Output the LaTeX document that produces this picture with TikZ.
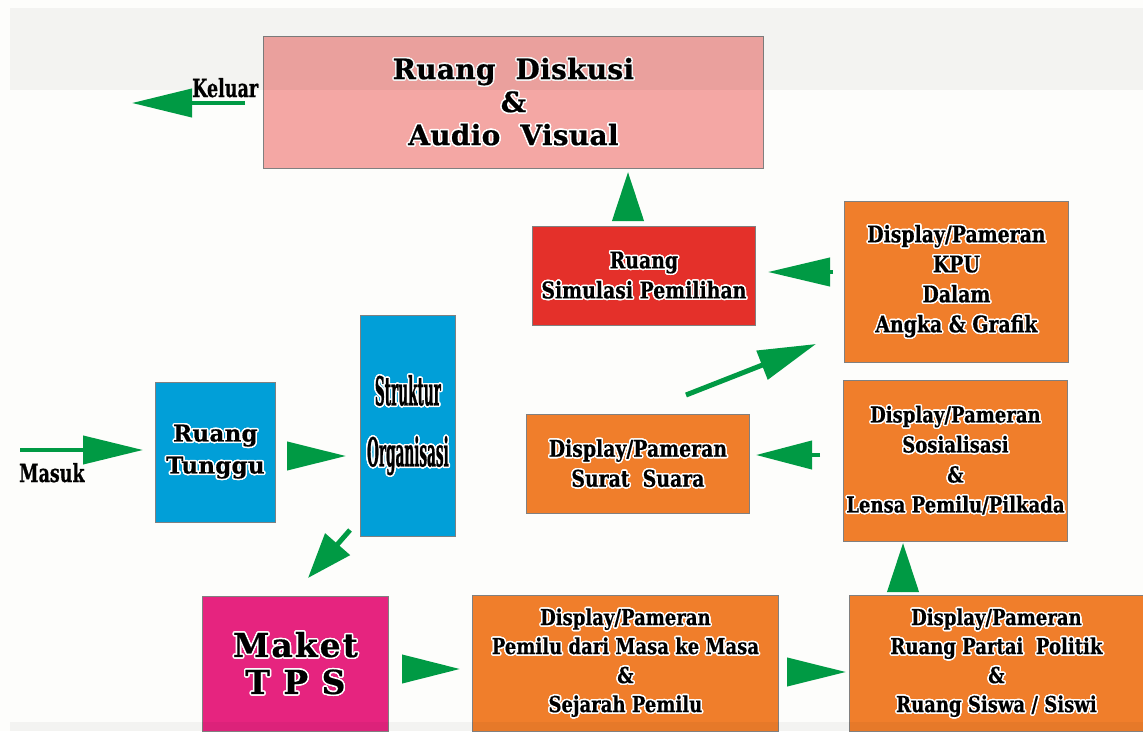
\documentclass[tikz,border=0pt]{standalone}
\usepackage{fontspec}
\usepackage[copies]{contour}
\usetikzlibrary{arrows.meta}
\newfontfamily\slab[LetterSpace=1,FakeBold=0.6]{DejaVu Serif}
\newfontfamily\slabwide[LetterSpace=6,FakeBold=0.6]{DejaVu Serif}
\newfontfamily\cond[FakeStretch=0.82,FakeBold=0.6]{DejaVu Serif}
\newfontfamily\tcond[FakeStretch=0.7,FakeBold=0.6]{DejaVu Serif}
\newfontfamily\ucond[FakeStretch=0.34,FakeBold=0.6]{DejaVu Serif}
\contourlength{1.5pt}
\contournumber{16}
\newcommand\ol[1]{\contour{white}{#1}}
\definecolor{bgc}{HTML}{FDFDFB}
\definecolor{pinkc}{HTML}{F4A7A4}
\definecolor{redc}{HTML}{E4302A}
\definecolor{orangec}{HTML}{F07E2B}
\definecolor{bluec}{HTML}{019FD8}
\definecolor{magc}{HTML}{E6247F}
\definecolor{greenc}{HTML}{009A44}
\definecolor{linec}{HTML}{808080}
\begin{document}
\begin{tikzpicture}[x=1pt,y=-1pt,
  box/.style={draw=linec, line width=0.8pt, inner sep=0pt, anchor=north west, align=center, text=black},
  condtext/.style={font=\cond\bfseries\fontsize{23}{30}\selectfont},
  lowtext/.style={font=\cond\bfseries\fontsize{22}{29}\selectfont},
  garrow/.style={draw=greenc, line width=4pt, -{Triangle[length=#1pt, width=28pt, fill=greenc]}},
  garrow/.default=58]
\useasboundingbox (0,0) rectangle (1143,731);
\fill[bgc] (0,0) rectangle (1143,731);

\node[box, fill=pinkc, minimum width=500pt, minimum height=132pt,
  font=\slab\bfseries\fontsize{28}{33}\selectfont] (diskusi) at (263,36)
  {\ol{Ruang~~Diskusi}\\\ol{\&}\\\ol{Audio~~Visual}};
\node[box, fill=redc, minimum width=223pt, minimum height=99pt, condtext] (simulasi) at (532,226)
  {\ol{Ruang}\\\ol{Simulasi Pemilihan}};
\node[box, fill=orangec, minimum width=224pt, minimum height=161pt, condtext] (kpu) at (844,201)
  {\ol{Display/Pameran}\\\ol{KPU}\\\ol{Dalam}\\\ol{Angka \& Grafik}};
\node[box, fill=bluec, minimum width=120pt, minimum height=140pt,
  font=\slab\bfseries\fontsize{23}{32}\selectfont] (tunggu) at (155,382)
  {\ol{Ruang}\\\ol{Tunggu}};
\node[box, fill=bluec, minimum width=95pt, minimum height=221pt,
  font=\ucond\bfseries\fontsize{40}{61}\selectfont] (struktur) at (360,315)
  {\ol{Struktur}\\\ol{Organisasi}};
\node[box, fill=orangec, minimum width=223pt, minimum height=99pt, condtext] (surat) at (526,414)
  {\ol{Display/Pameran}\\\ol{Surat~~Suara}};
\node[box, fill=orangec, minimum width=224pt, minimum height=161pt, lowtext,
  font=\cond\bfseries\fontsize{22}{30}\selectfont] (sosial) at (843,380)
  {\ol{Display/Pameran}\\\ol{Sosialisasi}\\\ol{\&}\\\ol{Lensa Pemilu/Pilkada}};
\node[box, fill=magc, minimum width=186pt, minimum height=135pt,
  font=\slabwide\bfseries\fontsize{33}{37}\selectfont] (maket) at (202,596)
  {\ol{Maket}\\\ol{T~P~S}};
\node[box, fill=orangec, minimum width=306pt, minimum height=136pt, lowtext] (pemilu) at (472,595)
  {\ol{Display/Pameran}\\\ol{Pemilu dari Masa ke Masa}\\\ol{\&}\\\ol{Sejarah Pemilu}};
\node[box, fill=orangec, minimum width=294pt, minimum height=136pt, lowtext] (partai) at (849,595)
  {\ol{Display/Pameran}\\\ol{Ruang Partai~~Politik}\\\ol{\&}\\\ol{Ruang Siswa / Siswi}};

\node[font=\tcond\bfseries\fontsize{25}{28}\selectfont, anchor=base west, inner sep=0pt] (keluar) at (192,97) {Keluar};
\node[font=\tcond\bfseries\fontsize{25}{28}\selectfont, anchor=base west, inner sep=0pt] (masuk) at (19,482) {Masuk};

% translucent grey bands (top and bottom)
\fill[black, opacity=0.04] (10,8) rectangle (1143,90);
\fill[black, opacity=0.04] (10,722) rectangle (1143,731);

\coordinate (kel-s) at (245,103); \coordinate (kel-t) at (132,103);
\coordinate (mas-s) at (20,450); \coordinate (mas-t) at (143,450);
\coordinate (ts-s) at (287,456); \coordinate (ts-t) at (346,456);
\coordinate (sd-s) at (628,221); \coordinate (sd-t) at (628,172);
\coordinate (ks-s) at (833,272); \coordinate (ks-t) at (768,272);
\coordinate (ss-s) at (820,455); \coordinate (ss-t) at (756,455);
\coordinate (ps-s) at (903,592); \coordinate (ps-t) at (903,543);
\coordinate (sk-s) at (686,395); \coordinate (sk-t) at (816,344);
\coordinate (sm-s) at (350,530); \coordinate (sm-t) at (308,578);
\coordinate (mp-s) at (402,669); \coordinate (mp-t) at (460,669);
\coordinate (pp-s) at (787,672); \coordinate (pp-t) at (846,672);

\draw[garrow=60] (kel-s) -- (kel-t);
\draw[garrow=60] (mas-s) -- (mas-t);
\draw[garrow=59] (ts-s) -- (ts-t);
\draw[-{Triangle[length=49pt,width=31pt,fill=greenc]}, draw=greenc, line width=4pt] (sd-s) -- (sd-t);
\draw[garrow=62] (ks-s) -- (ks-t);
\draw[garrow=56] (ss-s) -- (ss-t);
\draw[-{Triangle[length=49pt,width=31pt,fill=greenc]}, draw=greenc, line width=4pt] (ps-s) -- (ps-t);
\draw[-{Triangle[length=58pt,width=30pt,fill=greenc]}, draw=greenc, line width=5pt] (sk-s) -- (sk-t);
\draw[-{Triangle[length=45pt,width=32pt,fill=greenc]}, draw=greenc, line width=5pt] (sm-s) -- (sm-t);
\draw[garrow=58] (mp-s) -- (mp-t);
\draw[garrow=59] (pp-s) -- (pp-t);
\end{tikzpicture}
\end{document}
